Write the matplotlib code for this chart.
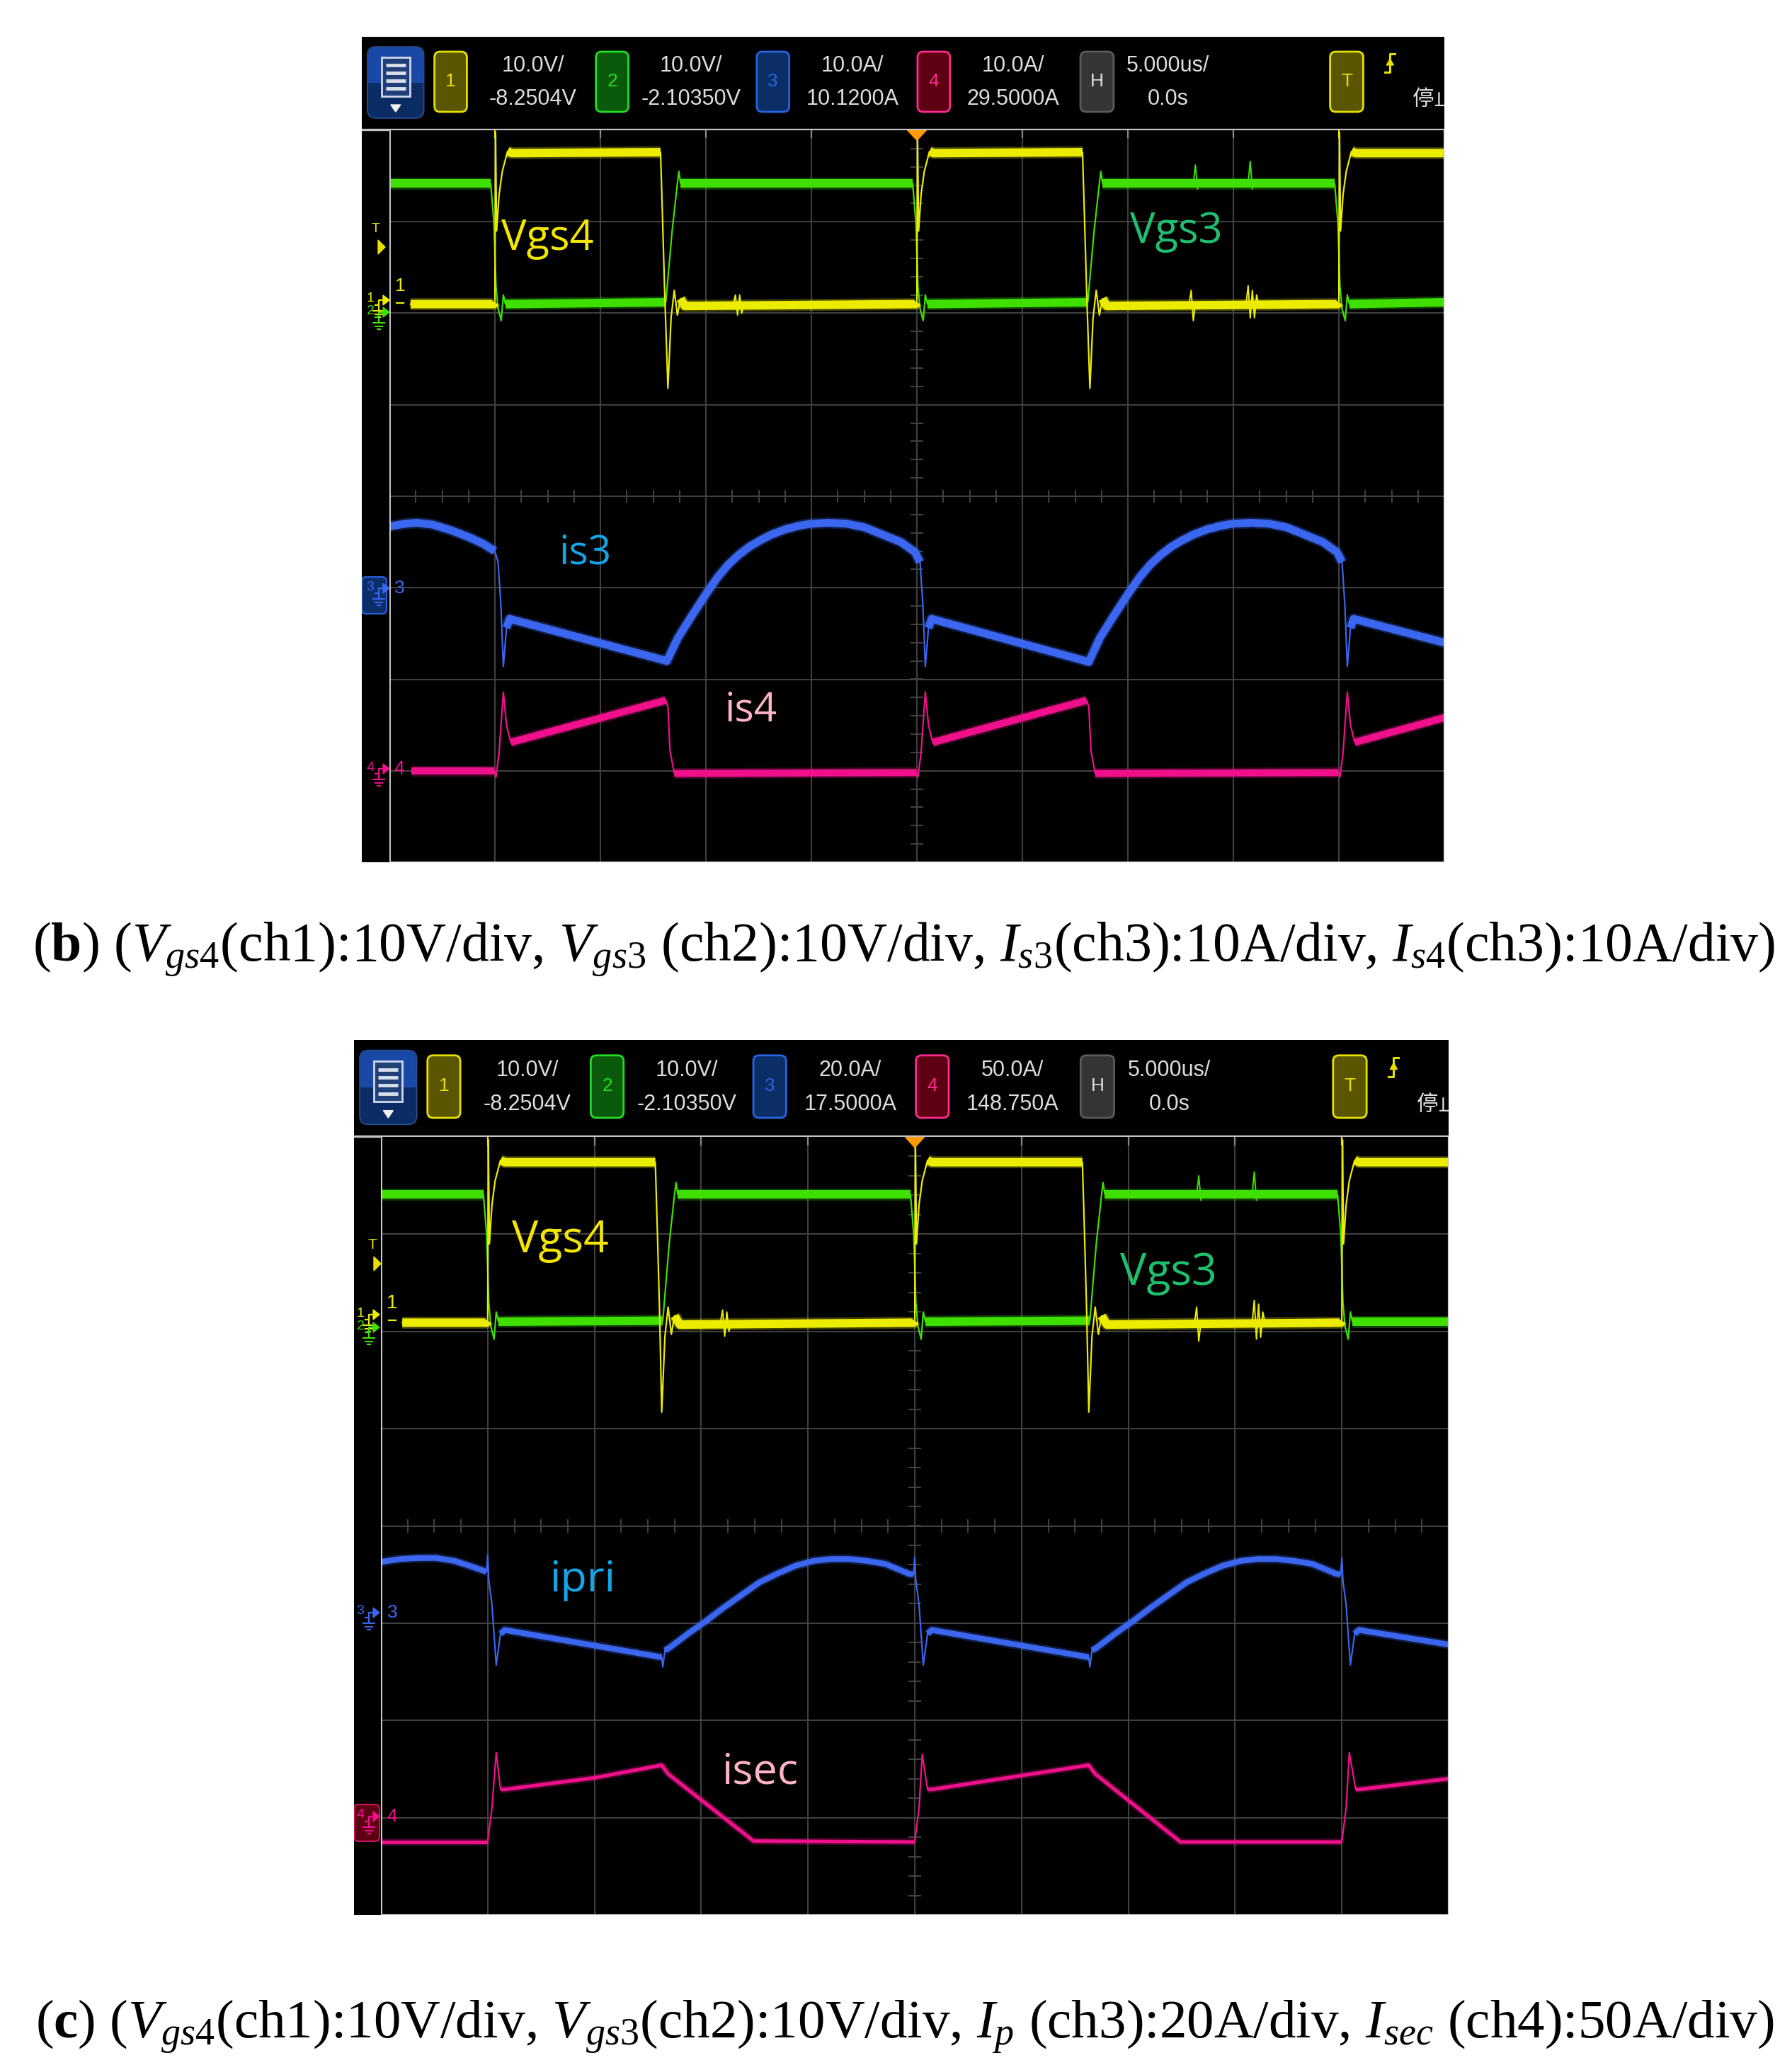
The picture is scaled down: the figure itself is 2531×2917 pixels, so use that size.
import numpy as np
import matplotlib
matplotlib.use("Agg")
import matplotlib.pyplot as plt
from matplotlib.patches import Rectangle, FancyBboxPatch, Polygon

plt.rcParams['mathtext.fontset'] = 'custom'
plt.rcParams['mathtext.rm'] = 'Liberation Serif'
plt.rcParams['mathtext.it'] = 'Liberation Serif:italic'
plt.rcParams['mathtext.bf'] = 'Liberation Serif:bold'

nan = float('nan')

# ====================== DATA ======================
channel_names = ["1", "2", "3", "4"]
b_scale = ["10.0V/", "10.0V/", "10.0A/", "10.0A/"]
b_offset = ["-8.2504V", "-2.10350V", "10.1200A", "29.5000A"]
c_scale = ["10.0V/", "10.0V/", "20.0A/", "50.0A/"]
c_offset = ["-8.2504V", "-2.10350V", "17.5000A", "148.750A"]
time_scale = "5.000us/"
time_offset = "0.0s"
run_state = "停止"

b_labels = ["Vgs4", "Vgs3", "is3", "is4"]
c_labels = ["Vgs4", "Vgs3", "ipri", "isec"]

caption_b = (r"($\mathbf{b}$) ($V_{\mathit{gs4}}$(ch1):10V/div, $V_{\mathit{gs3}}$ (ch2):10V/div, "
             r"$I_{\mathit{s3}}$(ch3):10A/div, $I_{\mathit{s4}}$(ch3):10A/div)")
caption_c = (r"($\mathbf{c}$) ($V_{\mathit{gs4}}$(ch1):10V/div, $V_{\mathit{gs3}}$(ch2):10V/div, "
             r"$I_{\mathit{p}}$ (ch3):20A/div, $I_{\mathit{sec}}$ (ch4):50A/div)")

# waveforms: time in us (5 us/div, 10 div); amplitude in screen divisions (-4..4)
# ---- panel (b) ----
b_vgs4_t = [1.0, 4.95, 5.0, 5.03, 5.08, 5.2, 5.35, 5.6, 5.8,
            12.85, 12.95, 13.05, 13.2, 13.35, 13.5, 13.65, 13.8, 14.0,
            24.95, 25.0, 25.03, 25.08, 25.2, 25.35, 25.6, 25.8,
            32.85, 32.95, 33.05, 33.2, 33.35, 33.5, 33.65, 33.8, 34.0,
            44.95, 45.0, 45.03, 45.08, 45.2, 45.35, 45.6, 45.8, 50.0]
b_vgs4_v = [2.10, 2.10, 2.12, 3.98, 2.90, 3.30, 3.55, 3.77, 3.75,
            3.76, 3.00, 2.20, 1.18, 1.95, 2.25, 1.98, 2.16, 2.08,
            2.10, 2.12, 3.98, 2.90, 3.30, 3.55, 3.77, 3.75,
            3.76, 3.00, 2.20, 1.18, 1.95, 2.25, 1.98, 2.16, 2.08,
            2.10, 2.12, 3.98, 2.90, 3.30, 3.55, 3.77, 3.75, 3.75]
b_vgs4_ring_t = [16.3, 16.4, 16.5, 16.6, 16.7, 16.8, nan,
                 37.9, 38.0, 38.1, 38.2, nan,
                 40.6, 40.7, 40.8, 40.9, 41.0, 41.1, 41.2]
b_vgs4_ring_v = [2.10, 2.20, 1.98, 2.20, 2.00, 2.10, nan,
                 2.10, 2.25, 1.92, 2.10, nan,
                 2.10, 2.30, 1.95, 2.25, 1.95, 2.20, 2.10]

b_vgs3_t = [0.0, 4.8, 4.95, 5.05, 5.15, 5.3, 5.4, 5.5,
            13.1, 13.4, 13.65, 13.72, 13.8,
            24.8, 24.95, 25.05, 25.15, 25.3, 25.4, 25.5,
            33.1, 33.4, 33.65, 33.72, 33.8,
            44.8, 44.95, 45.05, 45.15, 45.3, 45.4, 45.5, 50.0]
b_vgs3_v = [3.42, 3.42, 3.00, 2.30, 2.05, 1.92, 2.20, 2.10,
            2.12, 2.90, 3.42, 3.55, 3.42,
            3.42, 3.00, 2.30, 2.05, 1.92, 2.20, 2.10,
            2.12, 2.90, 3.42, 3.55, 3.42,
            3.42, 3.00, 2.30, 2.05, 1.92, 2.20, 2.10, 2.12]
b_vgs3_ring_t = [38.1, 38.2, 38.3, nan, 40.7, 40.8, 40.9]
b_vgs3_ring_v = [3.42, 3.62, 3.36, nan, 3.42, 3.66, 3.36]

b_is3_t = [0.0, 0.75, 1.3, 2.05, 2.9, 3.8, 4.45, 5.0, 5.15, 5.28, 5.4, 5.55, 5.7,
           13.15,
           13.67, 14.35, 15.03, 15.54, 16.05, 16.56, 17.07, 17.59, 18.10, 18.78, 19.46,
           20.0, 20.82, 21.68, 22.53, 23.38, 24.23, 24.91,
           25.15, 25.28, 25.4, 25.55, 25.7,
           33.15,
           33.67, 34.35, 35.03, 35.54, 36.05, 36.56, 37.07, 37.59, 38.10, 38.78, 39.46,
           40.0, 40.82, 41.68, 42.53, 43.38, 44.23, 44.91,
           45.15, 45.28, 45.4, 45.55, 45.7,
           50.0]
b_is3_v = [-0.33, -0.30, -0.29, -0.31, -0.37, -0.45, -0.52, -0.60, -0.72, -1.17, -1.86, -1.44, -1.34,
           -1.80,
           -1.55, -1.30, -1.06, -0.89, -0.75, -0.64, -0.55, -0.48, -0.42, -0.36, -0.32,
           -0.30, -0.29, -0.30, -0.34, -0.42, -0.50, -0.61,
           -0.72, -1.17, -1.86, -1.44, -1.34,
           -1.81,
           -1.55, -1.30, -1.06, -0.89, -0.75, -0.64, -0.55, -0.48, -0.42, -0.36, -0.32,
           -0.30, -0.29, -0.30, -0.34, -0.42, -0.50, -0.61,
           -0.72, -1.17, -1.86, -1.44, -1.34,
           -1.60]

b_is4_t = [1.05, 4.98, 5.05, 5.2, 5.4, 5.55, 5.75,
           13.1, 13.2, 13.3, 13.5,
           24.98, 25.05, 25.2, 25.4, 25.55, 25.75,
           33.05, 33.15, 33.25, 33.45,
           44.98, 45.05, 45.2, 45.4, 45.55, 45.75,
           50.0]
b_is4_v = [-3.00, -3.00, -3.07, -2.80, -2.14, -2.50, -2.69,
           -2.23, -2.30, -2.78, -3.03,
           -3.02, -3.07, -2.80, -2.14, -2.50, -2.69,
           -2.23, -2.30, -2.78, -3.03,
           -3.02, -3.07, -2.80, -2.14, -2.50, -2.69,
           -2.42]

# ---- panel (c) ----
c_vgs4_t = [1.0, 4.95, 5.0, 5.03, 5.08, 5.2, 5.35, 5.6, 5.8,
            12.85, 12.95, 13.05, 13.15, 13.3, 13.45, 13.6, 13.75, 14.0,
            24.95, 25.0, 25.03, 25.08, 25.2, 25.35, 25.6, 25.8,
            32.85, 32.95, 33.05, 33.15, 33.3, 33.45, 33.6, 33.75, 34.0,
            44.95, 45.0, 45.03, 45.08, 45.2, 45.35, 45.6, 45.8, 50.0]
c_vgs4_v = [2.09, 2.09, 2.11, 3.97, 2.90, 3.30, 3.55, 3.76, 3.74,
            3.74, 3.00, 2.20, 1.17, 1.95, 2.25, 1.97, 2.16, 2.07,
            2.09, 2.11, 3.97, 2.90, 3.30, 3.55, 3.76, 3.74,
            3.74, 3.00, 2.20, 1.17, 1.95, 2.25, 1.97, 2.16, 2.07,
            2.09, 2.11, 3.97, 2.90, 3.30, 3.55, 3.76, 3.74, 3.74]
c_vgs4_ring_t = [15.9, 16.0, 16.1, 16.2, 16.3, 16.4, nan,
                 38.1, 38.2, 38.3, 38.4, nan,
                 40.8, 40.9, 41.0, 41.1, 41.2, 41.3, 41.4]
c_vgs4_ring_v = [2.09, 2.22, 1.95, 2.20, 2.00, 2.09, nan,
                 2.09, 2.25, 1.90, 2.09, nan,
                 2.09, 2.32, 1.92, 2.28, 1.94, 2.20, 2.09]

c_vgs3_t = [0.0, 4.8, 4.95, 5.05, 5.15, 5.3, 5.4, 5.5,
            13.2, 13.5, 13.75, 13.82, 13.9,
            24.8, 24.95, 25.05, 25.15, 25.3, 25.4, 25.5,
            33.2, 33.5, 33.75, 33.82, 33.9,
            44.8, 44.95, 45.05, 45.15, 45.3, 45.4, 45.5, 50.0]
c_vgs3_v = [3.41, 3.41, 3.00, 2.30, 2.05, 1.92, 2.20, 2.10,
            2.11, 2.90, 3.41, 3.53, 3.41,
            3.41, 3.00, 2.30, 2.05, 1.92, 2.20, 2.10,
            2.11, 2.90, 3.41, 3.53, 3.41,
            3.41, 3.00, 2.30, 2.05, 1.92, 2.20, 2.10, 2.10]
c_vgs3_ring_t = [38.2, 38.3, 38.4, nan, 40.8, 40.9, 41.0]
c_vgs3_ring_v = [3.41, 3.60, 3.35, nan, 3.41, 3.64, 3.35]

c_ipri_t = [0.0, 0.92, 1.76, 2.6, 3.45, 4.29, 4.8, 4.95, 5.0, 5.05, 5.2, 5.4, 5.6, 5.8,
            13.15, 13.2, 13.3, 13.53,
            14.37, 15.21, 16.05, 16.89, 17.73, 18.57, 19.41, 20.25, 21.09, 21.93, 22.77, 23.61,
            24.28, 24.7, 24.95,
            25.0, 25.05, 25.2, 25.4, 25.6, 25.8,
            33.15, 33.2, 33.3, 33.53,
            34.37, 35.21, 36.05, 36.89, 37.73, 38.57, 39.41, 40.25, 41.09, 41.93, 42.77, 43.61,
            44.28, 44.7, 44.95,
            45.0, 45.05, 45.2, 45.4, 45.6, 45.8,
            50.0]
c_ipri_v = [-0.37, -0.34, -0.33, -0.33, -0.36, -0.42, -0.46, -0.47, -0.30, -0.55, -0.81, -1.43, -1.11, -1.07,
            -1.35, -1.45, -1.28, -1.25,
            -1.11, -0.98, -0.84, -0.71, -0.58, -0.49, -0.41, -0.36, -0.34, -0.34, -0.36, -0.39,
            -0.45, -0.49, -0.50,
            -0.32, -0.56, -0.81, -1.43, -1.11, -1.07,
            -1.35, -1.45, -1.28, -1.25,
            -1.11, -0.98, -0.84, -0.71, -0.58, -0.49, -0.41, -0.36, -0.34, -0.34, -0.36, -0.39,
            -0.45, -0.49, -0.50,
            -0.33, -0.56, -0.81, -1.43, -1.11, -1.07,
            -1.22]

c_isec_t = [0.0, 5.0, 5.2, 5.4, 5.6, 5.8, 10.0, 13.15, 13.45, 17.45,
            25.0, 25.2, 25.35, 25.6, 25.8, 33.15, 33.45, 37.45,
            45.0, 45.2, 45.35, 45.65, 45.8, 50.0]
c_isec_v = [-3.25, -3.25, -2.90, -2.33, -2.71, -2.71, -2.59, -2.46, -2.55, -3.24,
            -3.25, -2.90, -2.35, -2.71, -2.71, -2.46, -2.55, -3.25,
            -3.25, -2.90, -2.33, -2.71, -2.71, -2.60]

# ====================== LAYOUT / STYLE ======================
W, H = 2531, 2917
fig = plt.figure(figsize=(W / 100, H / 100), dpi=100)
fig.patch.set_facecolor('white')

PX = 72.0 / 100.0   # points per pixel
TXT = '#dedede'
GRIDC = '#404040'
YEL, GRN, BLU, PNK = '#ecec00', '#3fe000', '#3a66f0', '#f0108c'
LBL_COL = ['#f2e600', '#1fbf70', '#12a6e8', '#ffb3c6']
SANS = ['Liberation Sans', 'DejaVu Sans']
LBL_FONT = ['Open Sans', 'DejaVu Sans']


def frac(x0, y0, x1, y1):
    return [x0 / W, 1 - y1 / H, (x1 - x0) / W, (y1 - y0) / H]


def draw_trace(ax, t, v, color, band_px, thin_px=2.2, z=3):
    t = np.asarray(t, float)
    v = np.asarray(v, float)
    x0, x1 = ax.get_xlim()
    y0, y1 = ax.get_ylim()
    sx = ax.bbox.width / (x1 - x0)
    sy = ax.bbox.height / (y1 - y0)
    ax.plot(t, v, color=color, lw=thin_px * PX, solid_joinstyle='round', zorder=z)
    dx = np.abs(np.diff(t)) * sx
    dy = np.abs(np.diff(v)) * sy
    steep = dy > 3.0 * dx
    n = len(steep)
    i = 0
    while i < n:
        if not steep[i]:
            j = i
            while j < n and not steep[j]:
                j += 1
            tt, vv = t[i:j + 1], v[i:j + 1]
            ax.plot(tt, vv, color=color, lw=(band_px + 5) * PX, alpha=0.28,
                    solid_joinstyle='round', solid_capstyle='butt', zorder=z)
            ax.plot(tt, vv, color=color, lw=band_px * PX,
                    solid_joinstyle='round', solid_capstyle='butt', zorder=z)
            i = j
        else:
            i += 1


def draw_header(ax, sx, sy, scales, offsets):
    X = lambda x: x * sx
    Y = lambda y: y * sy
    ax.add_patch(FancyBboxPatch((X(8), Y(14)), X(80), Y(101), boxstyle='round,pad=0,rounding_size=12',
                                fc='#0c2c66', ec='#2a4f90', lw=1.2))
    ax.add_patch(FancyBboxPatch((X(9), Y(15)), X(78), Y(50), boxstyle='round,pad=0,rounding_size=11',
                                fc='#1a48a6', ec='none'))
    ax.add_patch(Rectangle((X(9), Y(45)), X(78), Y(20), fc='#1a48a6', ec='none'))
    ax.add_patch(Rectangle((X(28), Y(29)), X(40), Y(55), fc='#20407a', ec='#d0d8e8', lw=2))
    for yy in [40, 51, 62, 73]:
        ax.plot([X(34), X(62)], [Y(yy), Y(yy)], color='#d8dde8', lw=3.5, solid_capstyle='butt')
    ax.add_patch(Polygon([(X(41), Y(96)), (X(55), Y(96)), (X(48), Y(106))], closed=True, color='#f0f0f0'))
    box_x = [103, 332, 560, 788]
    box_fc = ['#5a5600', '#0b5a0b', '#0b2e66', '#5c0012']
    box_ec = ['#e6e000', '#22dd22', '#2a62e0', '#ff2a90']
    txt_x = [243, 467, 696, 923]
    for i in range(4):
        ax.add_patch(FancyBboxPatch((X(box_x[i]), Y(21)), X(46), Y(85), boxstyle='round,pad=0,rounding_size=8',
                                    fc=box_fc[i], ec=box_ec[i], lw=2))
        ax.text(X(box_x[i] + 23), Y(63), channel_names[i], color=box_ec[i], fontsize=19,
                family=SANS, ha='center', va='center')
        ax.text(X(txt_x[i]), Y(41), scales[i], color=TXT, fontsize=22, family=SANS, ha='center', va='center')
        ax.text(X(txt_x[i]), Y(88), offsets[i], color=TXT, fontsize=22, family=SANS, ha='center', va='center')
    ax.add_patch(FancyBboxPatch((X(1019), Y(21)), X(47), Y(85), boxstyle='round,pad=0,rounding_size=8',
                                fc='#343434', ec='#5a5a5a', lw=2))
    ax.text(X(1042.5), Y(63), "H", color=TXT, fontsize=19, family=SANS, ha='center', va='center')
    ax.text(X(1143), Y(41), time_scale, color=TXT, fontsize=22, family=SANS, ha='center', va='center')
    ax.text(X(1143), Y(88), time_offset, color=TXT, fontsize=22, family=SANS, ha='center', va='center')
    ax.add_patch(FancyBboxPatch((X(1373), Y(21)), X(47), Y(85), boxstyle='round,pad=0,rounding_size=8',
                                fc='#5a5600', ec='#e6e000', lw=2))
    ax.text(X(1396.5), Y(63), "T", color='#e6e000', fontsize=19, family=SANS, ha='center', va='center')
    ax.plot([X(1451), X(1458), X(1458), X(1465)], [Y(50), Y(50), Y(24), Y(24)], color='#e6e000', lw=2.2)
    ax.add_patch(Polygon([(X(1453), Y(40)), (X(1463), Y(40)), (X(1458), Y(31))], closed=True, color='#e6e000'))
    ax.text(X(1490), Y(88), run_state, color=TXT, fontsize=22, family=['Noto Sans CJK SC', 'DejaVu Sans'],
            ha='left', va='center', clip_on=True)


def ground(ax, x, y, color):
    ax.plot([x, x], [y, y + 8], color=color, lw=1.5)
    for i, hw in enumerate([8, 5, 2]):
        yy = y + 8 + i * 4.5
        ax.plot([x - hw, x + hw], [yy, yy], color=color, lw=1.5)


def ch_marker(ax, x, y, num, color, tag_x=None, box=None):
    if box is not None:
        ax.add_patch(FancyBboxPatch((box[0], box[1]), box[2], box[3], boxstyle='round,pad=0,rounding_size=6',
                                    fc=box[4], ec=box[5], lw=1.5, zorder=1))
    ax.text(x - 24, y - 2, num, color=color, fontsize=14, family=SANS, ha='center', va='center', zorder=2)
    ax.plot([x - 17, x - 12, x - 12, x - 4], [y + 7, y + 7, y, y], color=color, lw=1.6, zorder=2)
    ax.add_patch(Polygon([(x - 6, y - 7), (x + 3, y), (x - 6, y + 7)], closed=True, color=color, zorder=2))
    ground(ax, x - 12, y + 7, color)
    if tag_x is not None:
        ax.text(tag_x, y, num, color=color, fontsize=19, family=SANS, ha='center', va='center', zorder=2)


def make_panel(outer, grid, hdr_h, scales, offsets, traces, rings, labels, label_pos, label_fs, markers):
    ox0, oy0, ox1, oy1 = outer
    pw, ph = ox1 - ox0, oy1 - oy0
    base = fig.add_axes(frac(*outer))
    base.set_xlim(0, pw)
    base.set_ylim(ph, 0)
    base.set_facecolor('black')
    base.set_xticks([])
    base.set_yticks([])
    for s in base.spines.values():
        s.set_visible(False)
    base.set_zorder(0)
    draw_header(base, pw / 1535.0, hdr_h / 131.0, scales, offsets)
    base.plot([0, pw], [hdr_h, hdr_h], color='#c4c4c4', lw=2.4)

    g = fig.add_axes(frac(*grid))
    g.set_zorder(1)
    g.set_facecolor('black')
    g.set_xlim(0, 50)
    g.set_ylim(-4, 4)
    g.set_xticks([])
    g.set_yticks([])
    for s in g.spines.values():
        s.set_visible(False)
    for x in np.arange(5, 50, 5):
        g.plot([x, x], [-4, 4], color=GRIDC, lw=1.5, zorder=1)
    for y in np.arange(-3, 4, 1):
        g.plot([0, 50], [y, y], color=GRIDC, lw=1.5, zorder=1)
    for x in np.arange(1.25, 50, 1.25):
        g.plot([x, x], [-0.06, 0.06], color=GRIDC, lw=1.5, zorder=1)
    for y in np.arange(-3.8, 4, 0.2):
        g.plot([24.72, 25.28], [y, y], color=GRIDC, lw=1.5, zorder=1)
    for x in np.arange(5, 50, 5):
        col = '#e6e000' if x in (5, 45) else '#8a8a8a'
        g.plot([x, x], [4, 3.92], color=col, lw=1.6, zorder=2)
    g.add_patch(Polygon([(24.55, 4.0), (25.45, 4.0), (25.0, 3.89)], closed=True, color='#ff9a00', zorder=6))
    g.plot([0, 0], [-4, 4], color='#d4d4d4', lw=2.0, zorder=5)
    g.plot([50, 50], [-4, 4], color='#bcbcbc', lw=1.6, zorder=5)
    g.plot([0, 50], [-4, -4], color='#bcbcbc', lw=1.6, zorder=5)

    for (t, v, col, band) in traces:
        draw_trace(g, t, v, col, band)
    for (t, v, col) in rings:
        g.plot(t, v, color=col, lw=2.0 * PX, zorder=4)

    for lab, (lx, ly), col, fs in zip(labels, label_pos, LBL_COL, label_fs):
        g.text(lx, ly, lab, color=col, fontsize=fs, family=LBL_FONT, ha='left', va='baseline', zorder=8)

    ov = fig.add_axes(frac(*outer))
    ov.set_zorder(2)
    ov.set_xlim(0, pw)
    ov.set_ylim(ph, 0)
    ov.axis('off')
    markers(ov)


def markers_b(ax):
    ax.text(20, 272, "T", color='#e6e000', fontsize=14, family=SANS, ha='center', va='center')
    ax.add_patch(Polygon([(23, 287), (33, 297), (23, 307)], closed=True, color='#e6e000'))
    ch_marker(ax, 36, 372, "1", YEL)
    ax.text(54, 352, "1", color=YEL, fontsize=19, family=SANS, ha='center', va='center')
    ax.plot([49, 59], [376, 376], color=YEL, lw=1.6)
    ch_marker(ax, 36, 389, "2", GRN)
    ch_marker(ax, 36, 779, "3", BLU, tag_x=53, box=(0, 763, 35, 52, '#0b2e66', '#2a62e0'))
    ch_marker(ax, 36, 1034, "4", PNK, tag_x=53)


def markers_c(ax):
    ax.text(26, 290, "T", color='#e6e000', fontsize=15, family=SANS, ha='center', va='center')
    ax.add_patch(Polygon([(28, 306), (38, 316), (28, 326)], closed=True, color='#e6e000'))
    ch_marker(ax, 33, 388, "1", YEL)
    ax.text(54, 372, "1", color=YEL, fontsize=20, family=SANS, ha='center', va='center')
    ax.plot([49, 59], [396, 396], color=YEL, lw=1.6)
    ch_marker(ax, 33, 406, "2", GRN)
    ch_marker(ax, 33, 809, "3", BLU, tag_x=54)
    ch_marker(ax, 33, 1097, "4", PNK, tag_x=54, box=(0, 1080, 36, 52, '#5c0012', '#d01060'))


make_panel(outer=(511, 52, 2040, 1218), grid=(550, 184, 2040, 1218), hdr_h=131,
           scales=b_scale, offsets=b_offset,
           traces=[(b_is3_t, b_is3_v, BLU, 11), (b_is4_t, b_is4_v, PNK, 10),
                   (b_vgs3_t, b_vgs3_v, GRN, 12), (b_vgs4_t, b_vgs4_v, YEL, 12)],
           rings=[(b_vgs3_ring_t, b_vgs3_ring_v, GRN), (b_vgs4_ring_t, b_vgs4_ring_v, YEL)],
           labels=b_labels,
           label_pos=[(5.3, 2.69), (35.1, 2.77), (8.05, -0.74), (15.9, -2.46)],
           label_fs=[43, 43, 41, 41], markers=markers_b)

make_panel(outer=(500, 1469, 2046, 2705), grid=(538, 1606, 2046, 2705), hdr_h=136,
           scales=c_scale, offsets=c_offset,
           traces=[(c_ipri_t, c_ipri_v, BLU, 8), (c_isec_t, c_isec_v, PNK, 5),
                   (c_vgs3_t, c_vgs3_v, GRN, 12), (c_vgs4_t, c_vgs4_v, YEL, 12)],
           rings=[(c_vgs3_ring_t, c_vgs3_ring_v, GRN), (c_vgs4_ring_t, c_vgs4_ring_v, YEL)],
           labels=c_labels,
           label_pos=[(6.13, 2.81), (34.6, 2.48), (7.9, -0.67), (15.96, -2.65)],
           label_fs=[45, 45, 44, 44], markers=markers_c)


def fit_caption(s, x_left, x_right, y_center, fs0=56):
    t = fig.text(x_left / W, 1 - y_center / H, s, fontsize=fs0, ha='left', va='center',
                 family=['Liberation Serif', 'DejaVu Serif'], color='black')
    r = fig.canvas.get_renderer()
    bb = t.get_window_extent(r)
    t.set_fontsize(fs0 * (x_right - x_left) / bb.width)
    return t


fit_caption(caption_b, 46, 2505, 1341)
fit_caption(caption_c, 50, 2505, 2863)

fig.savefig("out.png", dpi=100, facecolor='white')
